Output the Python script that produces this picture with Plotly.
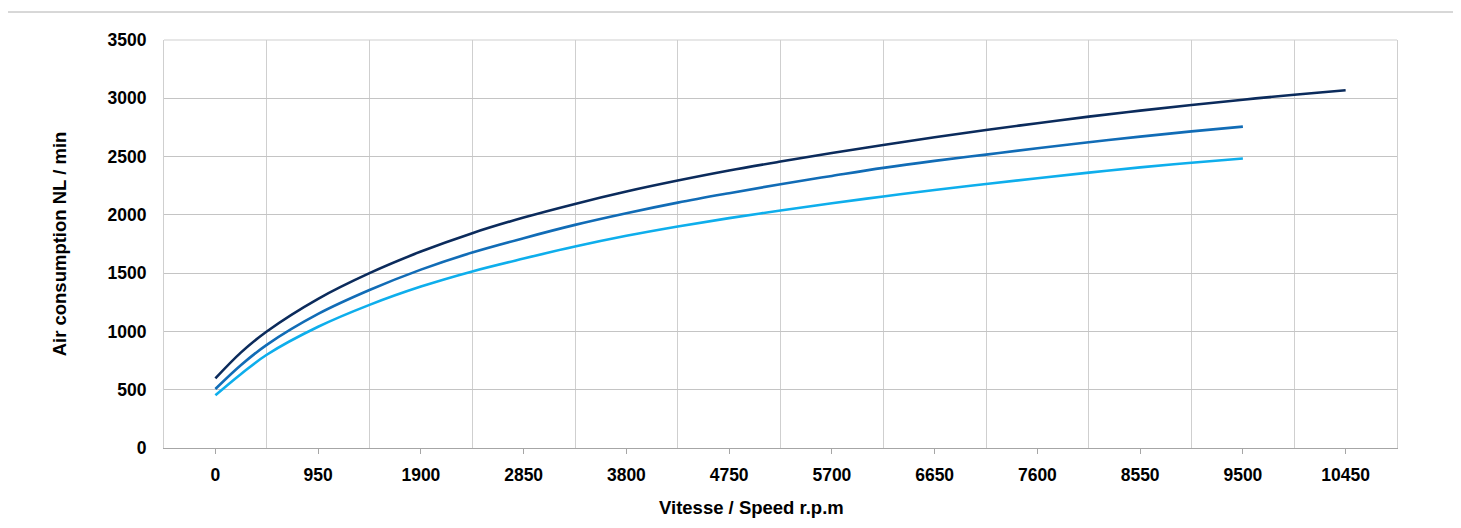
import plotly.graph_objects as go

# Speed (r.p.m) sample positions
speed_long = [0, 237.5, 475, 950, 1425, 1900, 2375, 2850, 3325, 3800, 4275, 4750, 5225, 5700,
              6175, 6650, 7125, 7600, 8075, 8550, 9025, 9500, 9975, 10450]
speed_short = [0, 237.5, 475, 950, 1425, 1900, 2375, 2850, 3325, 3800, 4275, 4750, 5225, 5700,
               6175, 6650, 7125, 7600, 8075, 8550, 9025, 9500]

# Air consumption NL/min
air_dark = [597, 820, 1000, 1280, 1500, 1685, 1843, 1977, 2094, 2200, 2294, 2380, 2457, 2530,
            2600, 2666, 2728, 2786, 2843, 2894, 2943, 2988, 3031, 3069]
air_mid = [506, 712, 885, 1150, 1355, 1530, 1677, 1800, 1914, 2014, 2105, 2186, 2263, 2334,
           2403, 2463, 2517, 2572, 2623, 2671, 2716, 2757]
air_light = [452, 635, 800, 1040, 1228, 1385, 1515, 1625, 1728, 1820, 1900, 1972, 2037, 2100,
             2158, 2213, 2265, 2314, 2362, 2407, 2447, 2483]

x_ticks = [0, 950, 1900, 2850, 3800, 4750, 5700, 6650, 7600, 8550, 9500, 10450]
y_ticks = [0, 500, 1000, 1500, 2000, 2500, 3000, 3500]

colors = ["#0b2b5c", "#116cb6", "#0eaeec"]

fig = go.Figure()
for xs, ys, c in [(speed_long, air_dark, colors[0]),
                  (speed_short, air_mid, colors[1]),
                  (speed_short, air_light, colors[2])]:
    fig.add_trace(go.Scatter(x=xs, y=ys, mode="lines",
                             line=dict(color=c, width=2.6, shape="spline", smoothing=1.0),
                             showlegend=False, hoverinfo="x+y"))

font_family = "Liberation Sans, Arial, sans-serif"

W, H = 1445, 512
L, T, PW, PH = 156, 32, 1233, 408
R, B = W - L - PW, H - T - PH

fig.update_layout(
    width=W, height=H,
    margin=dict(l=L, r=R, t=T, b=B, autoexpand=False),
    paper_bgcolor="white", plot_bgcolor="white",
    font=dict(family=font_family, color="#000000"),
    xaxis=dict(
        range=[-475, 10925],
        tickvals=x_ticks, ticktext=[str(v) for v in x_ticks],
        tickfont=dict(size=17.5, family=font_family, weight="bold"),
        showgrid=False,
        minor=dict(tick0=475, dtick=950, showgrid=True, gridcolor="#cfcfcf", gridwidth=1, ticks=""),
        ticks="outside", ticklen=5, tickcolor="#a6a6a6",
        showline=True, linecolor="#a6a6a6", linewidth=1,
        zeroline=False, ticklabelstandoff=6,
    ),
    yaxis=dict(
        range=[0, 3500],
        tickvals=y_ticks,
        tickfont=dict(size=17.5, family=font_family, weight="bold"),
        showgrid=True, gridcolor="#c4c4c4", gridwidth=1,
        showline=True, mirror=True, linecolor="#cfcfcf", linewidth=1,
        zeroline=False, ticks="", ticklabelstandoff=13,
        title=dict(text="Air consumption NL / min", font=dict(size=18.5, weight="bold"), standoff=36),
    ),
    annotations=[
        dict(text="Vitesse / Speed r.p.m", xref="paper", yref="paper",
             x=(743 - L) / PW, y=-60 / PH, xanchor="center", yanchor="middle",
             showarrow=False, font=dict(size=18.5, weight="bold", family=font_family)),
    ],
    shapes=[
        dict(type="line", xref="paper", yref="paper", x0=-L / PW, x1=(W - L) / PW,
             y0=(H - B - 4) / PH, y1=(H - B - 4) / PH, line=dict(color="#b0b0b0", width=1)),
        dict(type="line", xref="paper", yref="paper", x0=0, x1=1, y0=1, y1=1,
             line=dict(color="#cfcfcf", width=1)),
    ],
)

fig.write_html("out.html")
